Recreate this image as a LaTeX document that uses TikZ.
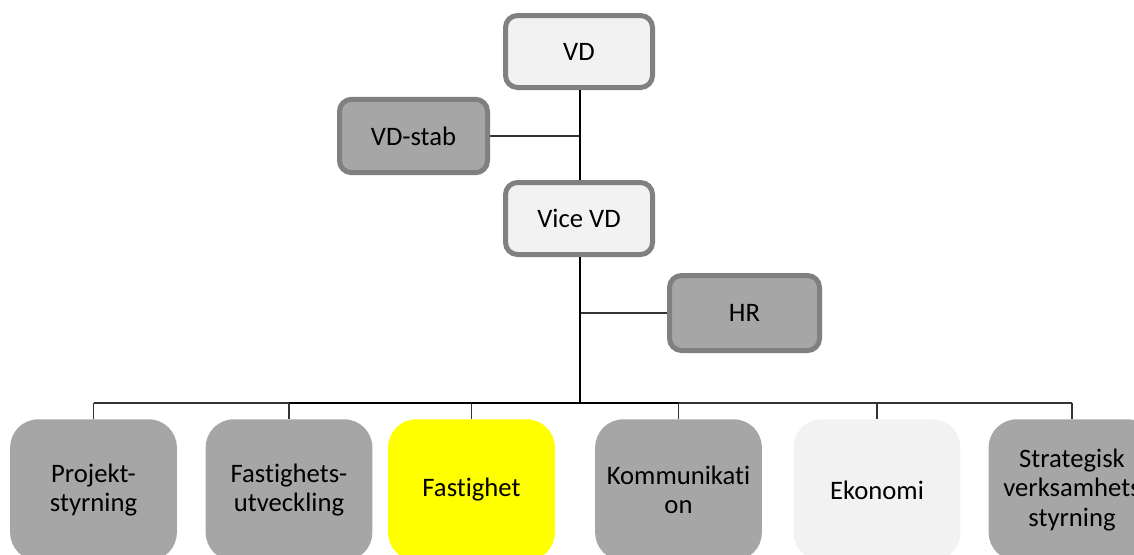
\documentclass[tikz,border=0pt]{standalone}
\usepackage{fontspec}
\setmainfont{Carlito}[Ligatures=NoCommon]
\definecolor{boxgray}{HTML}{A6A6A6}
\definecolor{boxlight}{HTML}{F2F2F2}
\definecolor{boxborder}{HTML}{808080}
\definecolor{boxyellow}{HTML}{FFFF00}
\begin{document}
\begin{tikzpicture}[x=0.75pt,y=-0.75pt,
  every node/.style={font=\fontsize{20}{22}\selectfont, align=center, inner sep=0pt},
  topbox/.style={draw=boxborder, line width=3.75pt, rounded corners=9pt, fill=boxlight,
     minimum width=110.25pt, minimum height=54pt},
  sidebox/.style={draw=boxborder, line width=3.75pt, rounded corners=9pt, fill=boxgray,
     minimum width=111pt, minimum height=55pt},
  lowbox/.style={rounded corners=21pt, minimum width=125pt, minimum height=106pt},
  trunk/.style={line width=1.5pt, black},
  thin/.style={line width=0.8pt, black!80}
]
\useasboundingbox (0,0) rectangle (1134,554);
\node[topbox] (vd) at (579,51.5) {VD};
\node[topbox] (vvd) at (579,218.5) {Vice VD};
\node[sidebox] (stab) at (413.5,136) {VD-stab};
\node[sidebox, minimum width=112.5pt, minimum height=56.25pt] (hr) at (744.5,313) {HR};

\node[lowbox, fill=boxgray] (p1) at (93.5,490) {Projekt-\\styrning};
\node[lowbox, fill=boxgray] (p2) at (289,490) {Fastighets-\\utveckling};
\node[lowbox, fill=boxyellow] (p3) at (471.5,490) {Fastighet};
\node[lowbox, fill=boxgray] (p4) at (678.5,490) {Kommunikati\\on};
\node[lowbox, fill=boxlight] (p5) at (877,490) {Ekonomi};
\node[lowbox, fill=boxgray] (p6) at (1072,490) {Strategisk\\verksamhets\\styrning};

\coordinate (j1) at (580,136);
\coordinate (j2) at (580,313);
\coordinate (bar) at (580,403);

\draw[thin] (stab.east) -- (j1);
\draw[thin] (j2) -- (hr.west);
\draw[trunk] (vd.south -| j1) -- (vvd.north -| j1);
\draw[trunk] (vvd.south -| j1) -- (bar);
\draw[thin] (p1.north |- bar) -- (p6.north |- bar);
\draw[trunk] (p2.north |- bar) -- (p4.north |- bar);
\foreach \n in {p1,p2,p3,p4,p5,p6}
  \draw[thin] (\n.north |- bar) -- (\n.north);
\end{tikzpicture}
\end{document}
